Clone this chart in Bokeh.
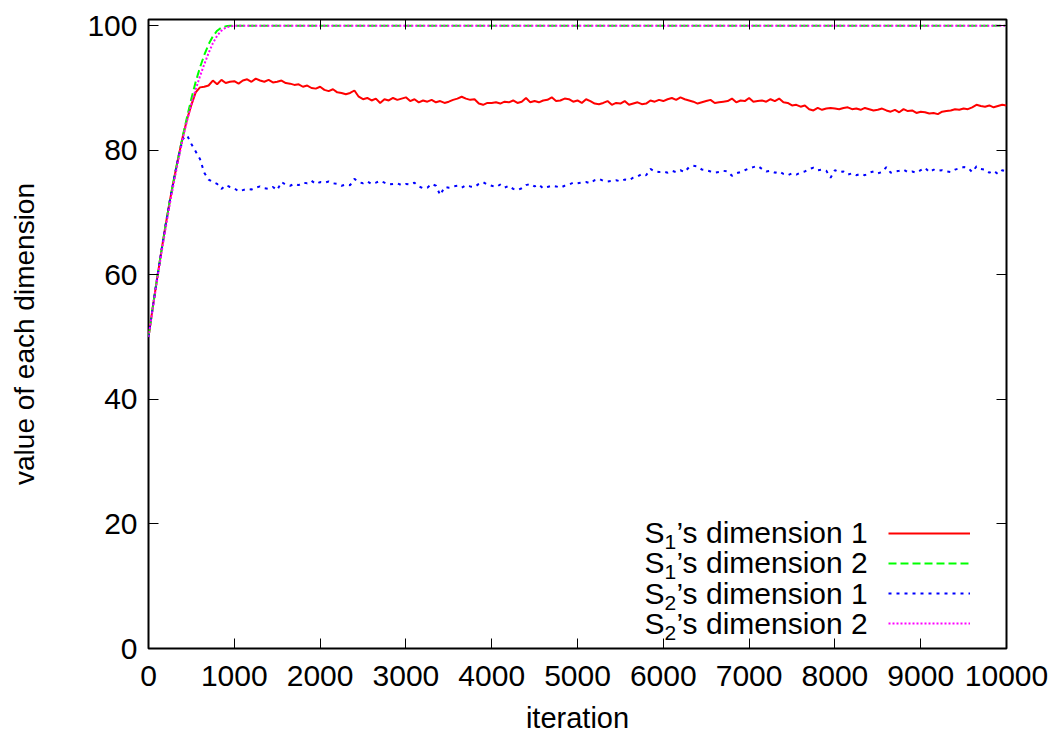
from bokeh.plotting import figure
from bokeh.models import (Range1d, FixedTicker, LinearAxis, Legend, LegendItem, Label,
                          CustomLabelingPolicy)
from bokeh.embed import file_html
from bokeh.resources import INLINE

# iterations sampled every 50 steps
iters = list(range(0, 10001, 50))

# S1's dimension 1
s1_dim1 = [
    50.0, 54.8, 59.4, 63.8, 68.0, 72.0, 75.6, 79.0, 82.2, 85.0,
    87.3, 89.3, 90.1, 90.2, 90.4, 91.2, 90.6, 91.3, 90.8, 91.0,
    91.1, 90.7, 91.2, 91.4, 91.0, 91.5, 91.2, 91.0, 91.3, 90.9,
    91.0, 91.2, 90.8, 90.7, 90.5, 90.6, 90.2, 90.4, 90.0, 89.9,
    90.2, 89.7, 89.5, 89.8, 89.3, 89.2, 89.0, 89.2, 89.6, 88.6,
    88.2, 88.4, 88.0, 88.3, 87.6, 88.2, 88.0, 88.4, 88.1, 88.3,
    88.5, 87.9, 88.2, 87.7, 88.0, 87.8, 88.1, 87.7, 87.9, 87.6,
    87.8, 88.1, 88.3, 88.6, 88.3, 88.1, 88.2, 87.5, 87.3, 87.6,
    87.6, 87.7, 87.5, 87.8, 87.7, 88.0, 87.6, 87.8, 88.4, 87.7,
    87.9, 87.7, 88.0, 88.1, 88.5, 87.9, 88.0, 88.3, 88.2, 87.8,
    88.0, 87.6, 88.2, 87.9, 87.5, 87.4, 87.6, 87.9, 87.3, 87.6,
    87.5, 87.9, 87.3, 87.5, 87.7, 87.4, 87.5, 88.0, 87.8, 88.1,
    87.9, 88.2, 88.4, 88.1, 88.5, 88.2, 88.0, 87.8, 87.5, 87.7,
    87.9, 88.1, 87.6, 87.7, 87.8, 87.9, 88.3, 87.7, 88.0, 87.9,
    88.4, 87.8, 87.9, 88.0, 87.8, 88.2, 87.9, 88.3, 87.7, 87.6,
    87.2, 87.3, 87.0, 87.2, 86.6, 86.4, 86.8, 86.5, 86.7, 86.8,
    86.7, 86.6, 86.8, 86.9, 86.6, 86.7, 86.5, 86.8, 86.6, 86.4,
    86.5, 86.7, 86.4, 86.2, 86.5, 86.1, 86.6, 86.3, 86.4, 86.0,
    86.2, 86.1, 85.9, 86.0, 85.8, 86.2, 86.3, 86.4, 86.6, 86.5,
    86.7, 86.6, 86.9, 87.3, 87.1, 87.0, 87.2, 86.9, 87.1, 87.3,
    87.2,
]

# S2's dimension 1
s2_dim1 = [
    50.0, 54.8, 59.4, 63.8, 68.0, 72.0, 75.6, 79.0, 81.8, 82.4,
    81.0, 79.8, 78.6, 76.4, 75.3, 74.9, 74.6, 73.8, 74.4, 74.1,
    73.9, 73.4, 73.6, 73.8, 73.7, 74.0, 74.2, 73.9, 73.8, 74.1,
    73.6, 74.9, 74.5, 74.3, 74.6, 74.4, 74.8, 74.7, 75.1, 74.6,
    74.9, 74.8, 75.0, 74.7, 74.6, 74.3, 74.5, 74.4, 75.4, 74.9,
    74.7, 75.0, 74.6, 74.8, 75.1, 74.8, 74.5, 74.6, 74.7, 74.4,
    74.6, 74.5, 74.8, 74.2, 73.9, 74.0, 74.6, 74.3, 72.8, 74.1,
    74.0, 74.2, 74.3, 74.0, 74.4, 74.2, 74.1, 74.6, 74.9, 74.5,
    74.3, 74.1, 74.5, 74.0, 74.3, 73.8, 73.6, 73.9, 74.4, 74.6,
    74.2, 74.5, 73.9, 74.1, 74.3, 74.2, 74.0, 74.3, 74.5, 74.8,
    74.7, 74.8, 74.9, 74.7, 75.2, 75.4, 75.1, 75.0, 75.1, 75.2,
    75.0, 75.3, 75.2, 75.6, 75.8, 76.2, 76.0, 77.0, 76.6, 76.5,
    76.6, 76.4, 76.7, 76.5, 76.8, 76.5, 77.3, 77.5, 77.4, 76.9,
    76.8, 76.6, 76.4, 76.5, 76.7, 76.6, 75.9, 76.3, 76.5, 76.8,
    77.1, 77.3, 77.5, 77.0, 76.6, 76.7, 76.4, 76.6, 76.2, 76.0,
    76.3, 76.1, 76.4, 76.6, 77.0, 77.2, 76.8, 76.9, 76.7, 75.6,
    76.8, 76.5, 76.6, 76.1, 76.3, 76.0, 76.2, 76.0, 76.4, 76.6,
    76.3, 76.5, 77.3, 76.4, 76.6, 76.7, 76.9, 76.5, 76.6, 76.4,
    76.8, 77.2, 76.5, 76.9, 76.7, 76.8, 76.6, 76.5, 76.9, 77.1,
    77.3, 77.2, 76.5, 77.4, 77.0, 76.9, 76.4, 76.7, 76.2, 76.8,
    76.6,
]

# the second dimensions saturate at 100 early on
rise_iters = [0, 50, 100, 150, 200, 250, 300, 350, 400, 450, 500, 550,
              600, 650, 700, 750, 800, 850, 900, 950, 1000, 1050, 10000]
s1_dim2 = [50.0, 54.8, 59.4, 63.8, 68.0, 72.0, 75.6, 79.0, 82.3, 85.4, 88.3, 91.0,
           93.3, 95.3, 97.0, 98.3, 99.2, 99.7, 99.9, 100.0, 100.0, 100.0, 100.0]
s2_dim2 = [50.0, 54.6, 59.1, 63.4, 67.5, 71.5, 75.1, 78.6, 81.9, 84.8, 87.4, 89.8,
           91.9, 93.8, 95.6, 97.2, 98.4, 99.2, 99.7, 99.9, 100.0, 100.0, 100.0]

x_ticks = [0, 1000, 2000, 3000, 4000, 5000, 6000, 7000, 8000, 9000, 10000]
y_ticks = [0, 20, 40, 60, 80, 100]

legend_rows = [
    ("S", "1", "\u2019s dimension 1"),
    ("S", "1", "\u2019s dimension 2"),
    ("S", "2", "\u2019s dimension 1"),
    ("S", "2", "\u2019s dimension 2"),
]

FONT = "Liberation Sans"

p = figure(width=1057, height=738, output_backend="svg", toolbar_location=None,
           x_range=Range1d(0, 10000), y_range=Range1d(0, 101),
           min_border_left=148, min_border_right=51, min_border_top=19, min_border_bottom=90)
p.background_fill_color = "white"
p.border_fill_color = "white"
p.grid.visible = False
p.outline_line_color = "black"
p.outline_line_width = 2

r1 = p.line(iters, s1_dim1, line_color="#ff0000", line_width=2)
r2 = p.line(rise_iters, s1_dim2, line_color="#00ff00", line_width=2, line_dash="8 4")
r3 = p.line(iters, s2_dim1, line_color="#0000ff", line_width=2, line_dash="3 5")
r4 = p.line(rise_iters, s2_dim2, line_color="#ff00ff", line_width=2, line_dash="2 2")


def style_axis(ax, label_size):
    ax.axis_line_color = None
    ax.major_tick_in = 10
    ax.major_tick_out = 0
    ax.major_tick_line_color = "black"
    ax.major_tick_line_width = 1
    ax.minor_tick_line_color = None
    ax.major_label_text_font = FONT
    ax.major_label_text_font_size = label_size
    ax.major_label_text_color = "black"


p.xaxis.ticker = FixedTicker(ticks=x_ticks)
p.yaxis.ticker = FixedTicker(ticks=y_ticks)
style_axis(p.xaxis[0], "30px")
style_axis(p.yaxis[0], "30px")
p.xaxis.major_label_standoff = 17
p.yaxis.major_label_standoff = 11
p.xaxis.axis_label = "iteration"
p.yaxis.axis_label = "value of each dimension"
for ax, size, standoff in ((p.xaxis[0], "29px", 13), (p.yaxis[0], "28px", 44)):
    ax.axis_label_text_font = FONT
    ax.axis_label_text_font_size = size
    ax.axis_label_text_font_style = "normal"
    ax.axis_label_text_color = "black"
    ax.axis_label_standoff = standoff

# mirrored tick marks on the top and right edges, without labels
no_labels = CustomLabelingPolicy(code="return new indices.constructor(indices.size)")
top_axis = LinearAxis(ticker=FixedTicker(ticks=x_ticks))
right_axis = LinearAxis(ticker=FixedTicker(ticks=y_ticks))
for ax in (top_axis, right_axis):
    style_axis(ax, "1px")
    ax.major_label_policy = no_labels
    ax.major_label_standoff = 0
p.add_layout(top_axis, "above")
p.add_layout(right_axis, "right")

# line samples of the key; the text sits to their left
legend = Legend(items=[LegendItem(label=" ", renderers=[r]) for r in (r1, r2, r3, r4)],
                location=(740, 15), orientation="vertical",
                glyph_width=82, glyph_height=20, label_height=20, label_width=0,
                label_standoff=0, spacing=10, padding=0, margin=0,
                label_text_font_size="8px",
                border_line_color=None, background_fill_alpha=0)
p.add_layout(legend)

row_y = [116, 86, 55, 25]
text_x = 496
for (base, sub, rest), y in zip(legend_rows, row_y):
    p.add_layout(Label(x=text_x, y=y, x_units="screen", y_units="screen", text=base,
                       text_font=FONT, text_font_size="30px", text_baseline="middle",
                       text_align="left", text_color="black"))
    p.add_layout(Label(x=text_x + 20, y=y - 9, x_units="screen", y_units="screen", text=sub,
                       text_font=FONT, text_font_size="21px", text_baseline="middle",
                       text_align="left", text_color="black"))
    p.add_layout(Label(x=text_x + 32, y=y, x_units="screen", y_units="screen", text=rest,
                       text_font=FONT, text_font_size="30px", text_baseline="middle",
                       text_align="left", text_color="black"))

open("out.html", "w").write(file_html(p, INLINE))
